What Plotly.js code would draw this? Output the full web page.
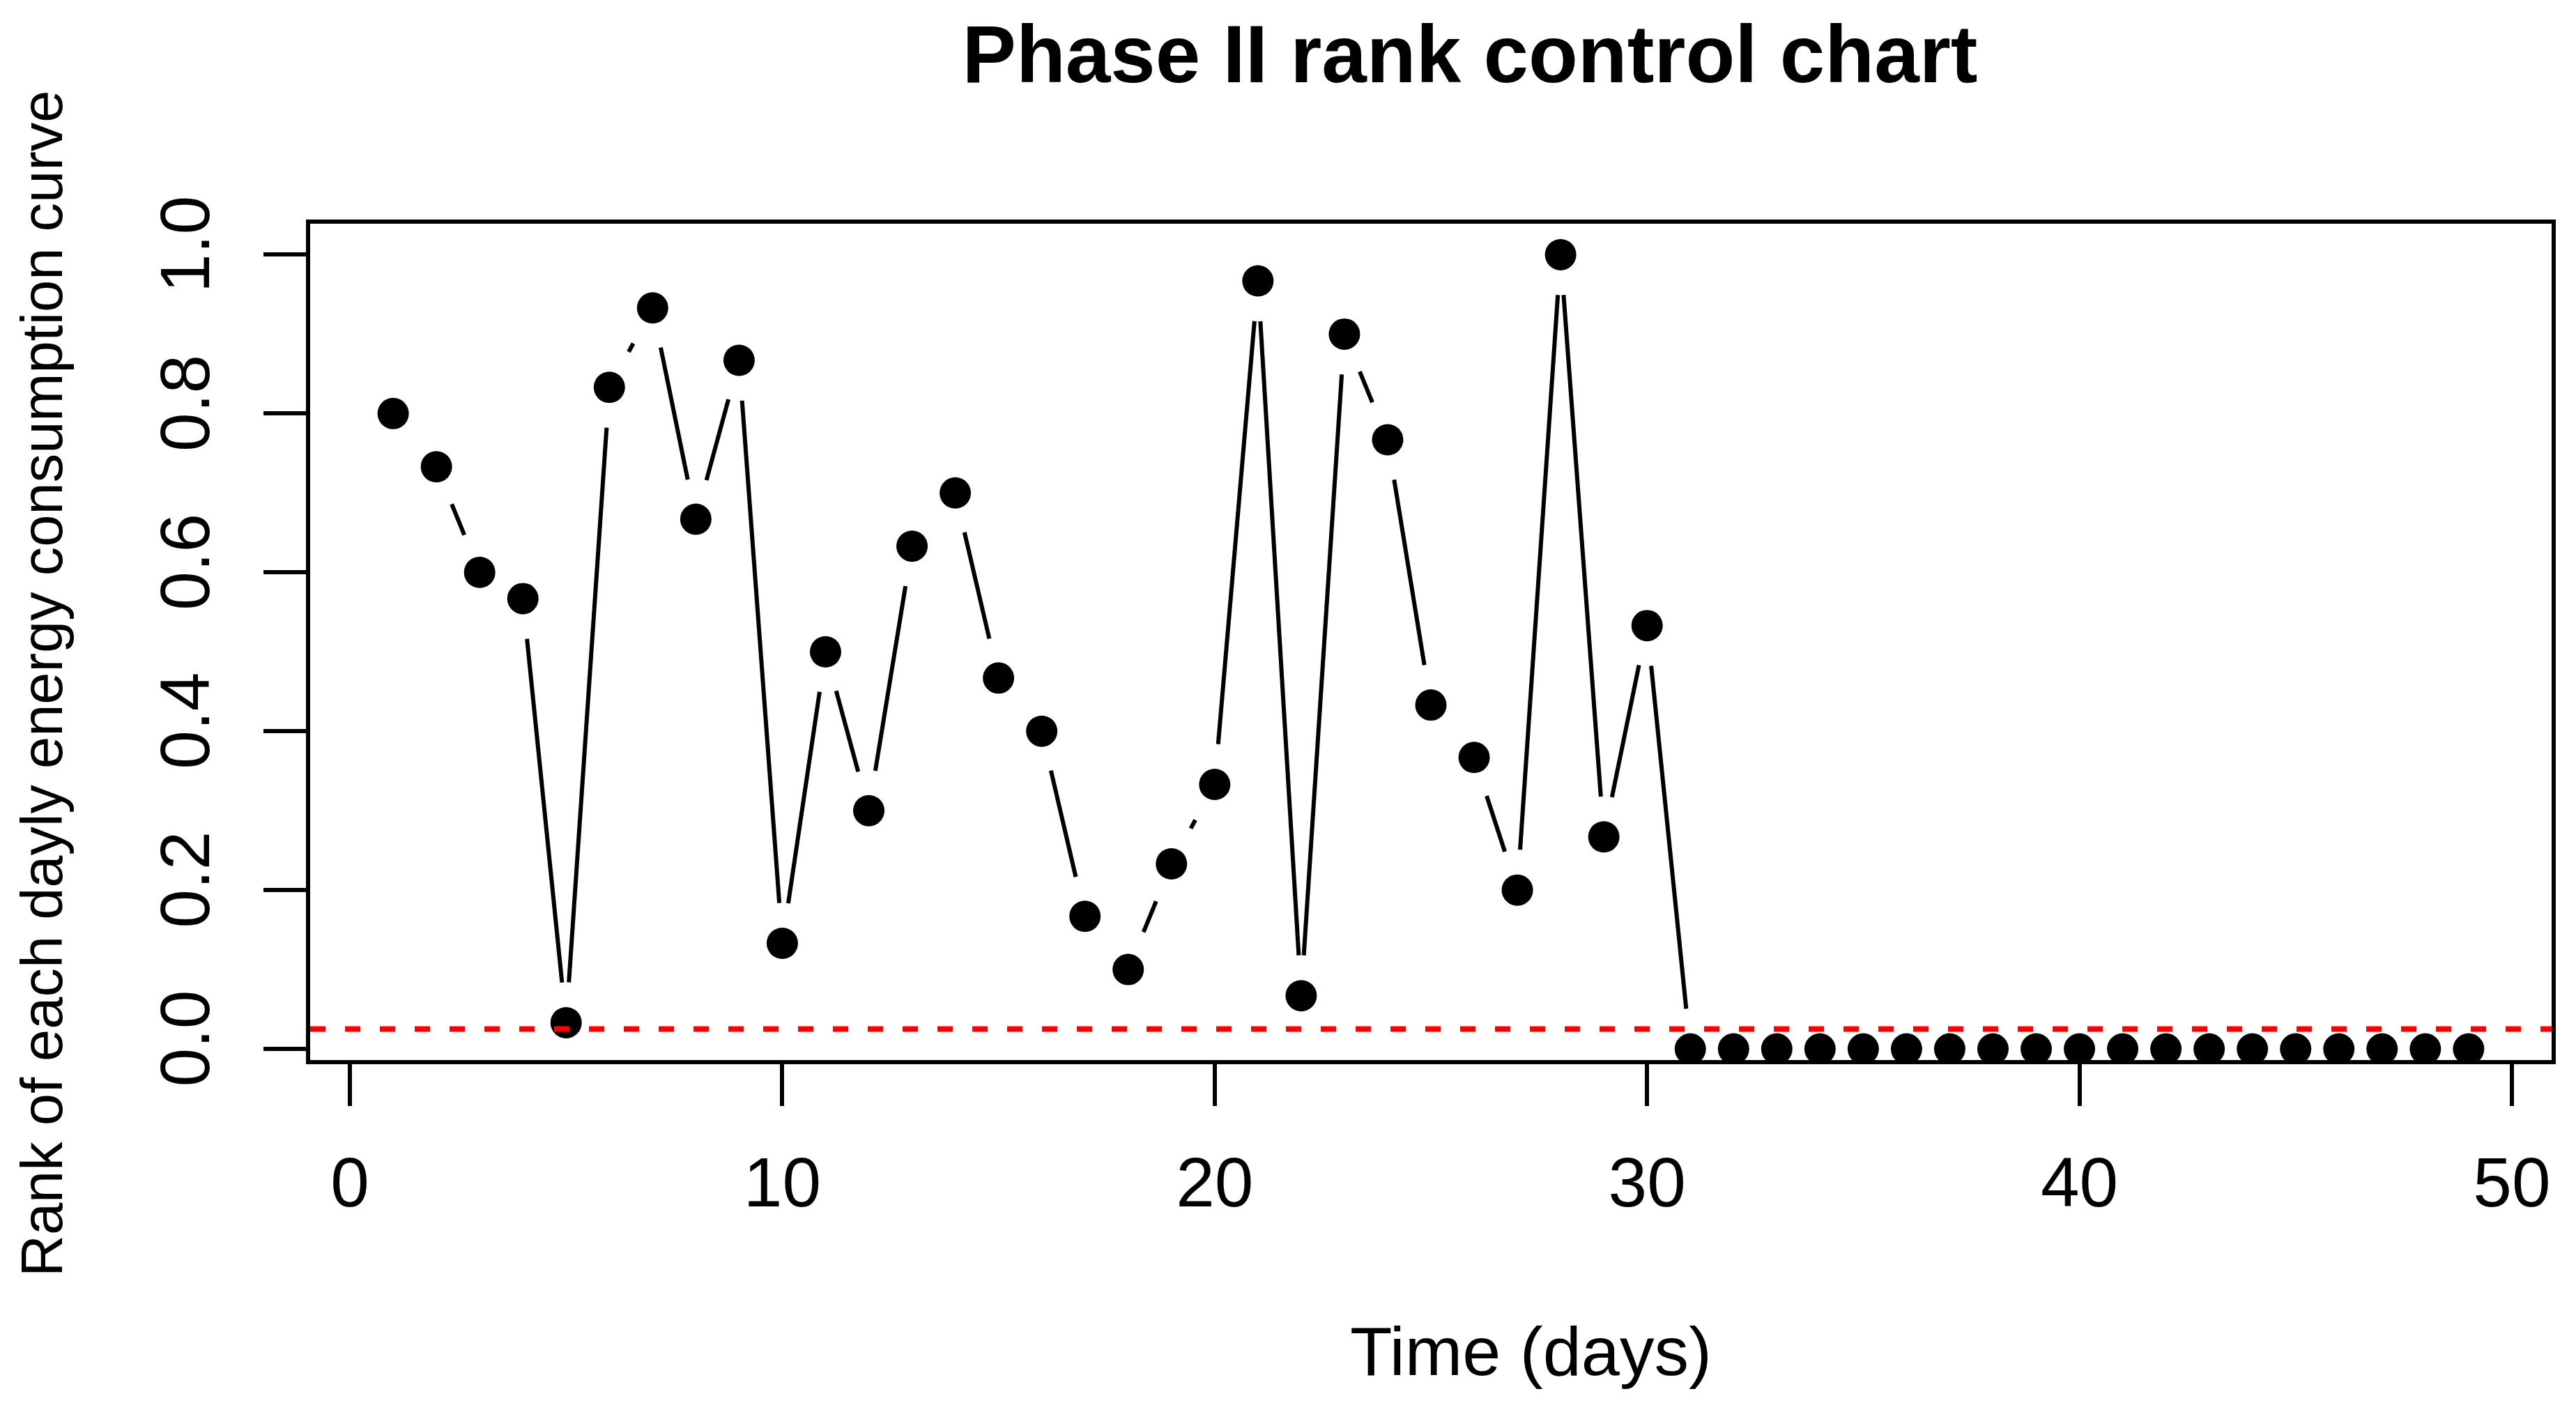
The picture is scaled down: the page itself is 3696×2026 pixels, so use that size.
<!DOCTYPE html>
<html>
<head>
<meta charset="utf-8">
<script src="https://cdn.plot.ly/plotly-3.0.1.min.js"></script>
<style>
html, body { margin: 0; padding: 0; background: #ffffff; }
#chart { width: 3696px; height: 2026px; }
</style>
</head>
<body>
<div id="chart"></div>
<script>
// ---- data ----
const days = [1, 2, 3, 4, 5, 6, 7, 8, 9, 10,
              11, 12, 13, 14, 15, 16, 17, 18, 19, 20,
              21, 22, 23, 24, 25, 26, 27, 28, 29, 30,
              31, 32, 33, 34, 35, 36, 37, 38, 39, 40,
              41, 42, 43, 44, 45, 46, 47, 48, 49];
const rankValues = [0.800, 0.733, 0.600, 0.567, 0.033, 0.833, 0.933, 0.667, 0.867, 0.133,
                    0.500, 0.300, 0.633, 0.700, 0.467, 0.400, 0.167, 0.100, 0.233, 0.333,
                    0.967, 0.067, 0.900, 0.767, 0.433, 0.367, 0.200, 1.000, 0.267, 0.533,
                    0, 0, 0, 0, 0, 0, 0, 0, 0, 0,
                    0, 0, 0, 0, 0, 0, 0, 0, 0];
const controlLimit = 0.025;
const xTickValues = [0, 10, 20, 30, 40, 50];
const yTickValues = [0, 0.2, 0.4, 0.6, 0.8, 1.0];
const yTickLabels = ["0.0", "0.2", "0.4", "0.6", "0.8", "1.0"];
const titleText = "Phase II rank control chart";
const xTitleText = "Time (days)";
const yTitleText = "Rank of each dayly energy consumption curve";

// ---- geometry / style ----
const W = 3696, H = 2026;
const M = { l: 445, r: 35, t: 321, b: 505 };
const PW = W - M.l - M.r, PH = H - M.t - M.b;
const XR = [-0.92, 50.92];
const YR = [-0.014, 1.039];
const FONT = "Liberation Sans, Arial, Helvetica, sans-serif";
const GAP = 58; // px gap around each point (R type = "b")

// line segments of type "b": broken around each point
const sx = PW / (XR[1] - XR[0]);
const sy = PH / (YR[1] - YR[0]);
const segX = [], segY = [];
for (let i = 0; i < days.length - 1; i++) {
  const x1 = days[i], y1 = rankValues[i], x2 = days[i + 1], y2 = rankValues[i + 1];
  const d = Math.hypot((x2 - x1) * sx, (y2 - y1) * sy);
  if (d > 2 * GAP) {
    const t = GAP / d;
    segX.push(x1 + t * (x2 - x1), x2 - t * (x2 - x1), null);
    segY.push(y1 + t * (y2 - y1), y2 - t * (y2 - y1), null);
  }
}

const traces = [
  {
    x: segX, y: segY, type: "scatter", mode: "lines",
    line: { color: "#000000", width: 6 },
    hoverinfo: "skip", showlegend: false, connectgaps: false
  },
  {
    x: days, y: rankValues, type: "scatter", mode: "markers",
    marker: { color: "#000000", size: 45, line: { width: 0 } },
    showlegend: false, cliponaxis: true
  }
];

const px2paperX = p => (p - M.l) / PW;
const px2paperY = p => (H - M.b - p) / PH;

const layout = {
  width: W, height: H,
  margin: M,
  paper_bgcolor: "#ffffff", plot_bgcolor: "#ffffff",
  showlegend: false,
  font: { family: FONT, color: "#000000" },
  title: {
    text: titleText,
    font: { family: FONT, size: 116, weight: "bold", color: "#000000" },
    xref: "container", yref: "container",
    x: 2109 / W, xanchor: "center",
    y: 1 - 77 / H, yanchor: "middle"
  },
  xaxis: {
    range: XR, autorange: false,
    tickmode: "array", tickvals: xTickValues,
    ticks: "outside", ticklen: 60, tickwidth: 6, tickcolor: "#000000",
    ticklabelstandoff: 24,
    showline: true, linewidth: 6, linecolor: "#000000", mirror: true,
    showgrid: false, zeroline: false,
    tickfont: { family: FONT, size: 100, color: "#000000" }
  },
  yaxis: {
    range: YR, autorange: false,
    tickmode: "array", tickvals: yTickValues, ticktext: yTickLabels,
    tickangle: -90,
    ticks: "outside", ticklen: 61, tickwidth: 6, tickcolor: "#000000",
    ticklabelstandoff: 38,
    showline: true, linewidth: 6, linecolor: "#000000", mirror: true,
    showgrid: false, zeroline: false,
    tickfont: { family: FONT, size: 100, color: "#000000" }
  },
  shapes: [
    {
      type: "line", xref: "paper", yref: "y",
      x0: 0, x1: 1, y0: controlLimit, y1: controlLimit,
      line: { color: "#FF0000", width: 8, dash: "22px,28px" },
      layer: "above"
    }
  ],
  annotations: [
    {
      text: xTitleText, showarrow: false,
      xref: "paper", yref: "paper",
      x: px2paperX(2196), y: px2paperY(1938),
      xanchor: "center", yanchor: "middle",
      font: { family: FONT, size: 99, color: "#000000" }
    },
    {
      text: yTitleText, showarrow: false, textangle: -90,
      xref: "paper", yref: "paper",
      x: px2paperX(60), y: px2paperY(981),
      xanchor: "center", yanchor: "middle",
      font: { family: FONT, size: 83, color: "#000000" }
    }
  ]
};

Plotly.newPlot("chart", traces, layout, { displayModeBar: false, staticPlot: true });
</script>
</body>
</html>
